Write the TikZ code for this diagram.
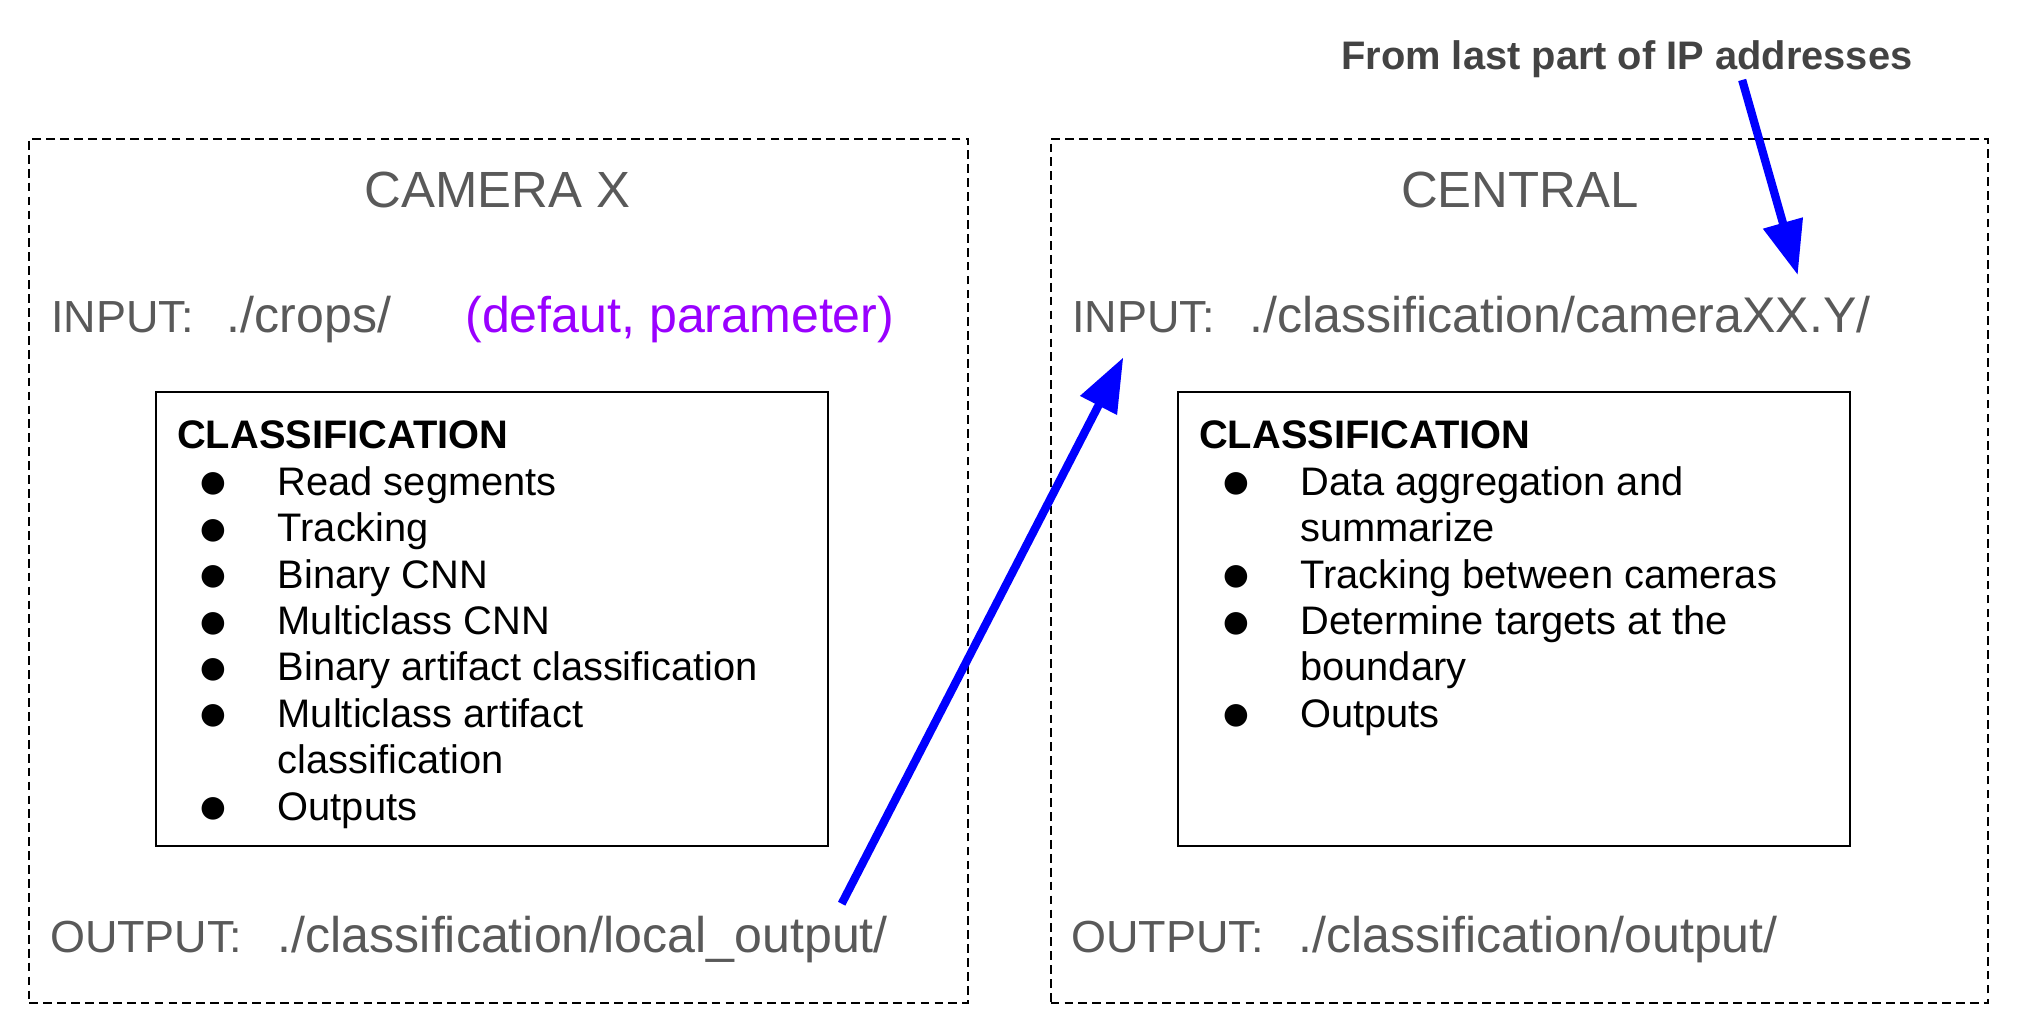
\documentclass[tikz,border=0pt]{standalone}
\usepackage{fontspec}
\setmainfont{Liberation Sans}
\newfontfamily\bulletfont{DejaVu Sans}
\usetikzlibrary{arrows.meta}
\definecolor{txtgray}{HTML}{595959}
\definecolor{anngray}{HTML}{434343}
\definecolor{arrblue}{HTML}{0000FF}
\definecolor{parpurple}{HTML}{9900FF}
\begin{document}
\begin{tikzpicture}[x=0.5bp,y=-0.5bp,
  outerbox/.style={draw=black, line width=0.7bp, dash pattern=on 3.4bp off 2bp, anchor=north west, inner sep=0},
  innerbox/.style={draw=black, line width=0.9bp, anchor=north west, inner sep=0},
  title/.style={text=txtgray, font=\fontsize{19.8}{23}\selectfont, inner sep=0, anchor=base},
  iolabel/.style={text=txtgray, font=\fontsize{17.5}{20}\selectfont, inner sep=0, anchor=base west},
  iopath/.style={text=txtgray, font=\fontsize{19.5}{23}\selectfont, inner sep=0, anchor=base west},
  listhead/.style={font=\bfseries\fontsize{15.5}{18}\selectfont, inner sep=0, anchor=base west},
  listitem/.style={font=\fontsize{15.5}{18}\selectfont, inner sep=0, anchor=base west},
  bul/.style={font=\bulletfont\fontsize{11.5}{12}\selectfont, inner sep=0, anchor=center},
  flow/.style={draw=arrblue, line width=3.2bp, -{Triangle[length=21bp,width=15.25bp]}},
]
\useasboundingbox (0,0) rectangle (1568,800);

% outer dashed boxes
\node[outerbox, minimum width=364bp, minimum height=335bp] (camx) at (22,107) {};
\node[outerbox, minimum width=363.5bp, minimum height=335bp] (central) at (814,107) {};

% inner boxes
\node[innerbox, minimum width=260.5bp, minimum height=176bp] (lbox) at (120,303) {};
\node[innerbox, minimum width=260.5bp, minimum height=176bp] (rbox) at (912.8,303) {};

% titles
\node[title] (ltitle) at (386,160.8) {CAMERA X};
\node[title] (rtitle) at (1178.5,160.8) {CENTRAL};

% left input / output
\node[iolabel] (lin) at (39.2,257.5) {INPUT:};
\node[iopath] (linpath) at (175.6,257.5) {./crops/};
\node[iopath, text=parpurple] (lparam) at (360.5,257.5) {(defaut, parameter)};
\node[iolabel] (lout) at (38.4,739) {OUTPUT:};
\node[iopath] (loutpath) at (215.1,739) {./classification/local\_output/};

% right input / output
\node[iolabel] (rin) at (831.2,257.5) {INPUT:};
\node[iopath] (rinpath) at (968.6,257.5) {./classification/cameraXX.Y/};
\node[iolabel] (rout) at (830.2,739) {OUTPUT:};
\node[iopath] (routpath) at (1006.7,739) {./classification/output/};

% left list
\node[listhead] (lhead) at (137,347.7) {CLASSIFICATION};
\node[bul] (lb1) at (165.8,375.4) {●};
\node[listitem] (li1) at (215,384) {Read segments};
\node[bul] (lb2) at (165.8,411.4) {●};
\node[listitem] (li2) at (215,420) {Tracking};
\node[bul] (lb3) at (165.8,447.4) {●};
\node[listitem] (li3) at (215,456) {Binary CNN};
\node[bul] (lb4) at (165.8,483.4) {●};
\node[listitem] (li4) at (215,492) {Multiclass CNN};
\node[bul] (lb5) at (165.8,519.4) {●};
\node[listitem] (li5) at (215,528) {Binary artifact classification};
\node[bul] (lb6) at (165.8,555.4) {●};
\node[listitem] (li6) at (215,564) {Multiclass artifact};
\node[listitem] (li6b) at (215,600) {classification};
\node[bul] (lb7) at (165.8,627.4) {●};
\node[listitem] (li7) at (215,636) {Outputs};

% right list
\node[listhead] (rhead) at (929.5,347.7) {CLASSIFICATION};
\node[bul] (rb1) at (958.5,375.4) {●};
\node[listitem] (ri1) at (1008,384) {Data aggregation and};
\node[listitem] (ri1b) at (1008,420) {summarize};
\node[bul] (rb2) at (958.5,447.4) {●};
\node[listitem] (ri2) at (1008,456) {Tracking between cameras};
\node[bul] (rb3) at (958.5,483.4) {●};
\node[listitem] (ri3) at (1008,492) {Determine targets at the};
\node[listitem] (ri3b) at (1008,528) {boundary};
\node[bul] (rb4) at (958.5,555.4) {●};
\node[listitem] (ri4) at (1008,564) {Outputs};

% annotation
\node[font=\bfseries\fontsize{15.5}{18}\selectfont, text=anngray, anchor=base west, inner sep=0] (ann) at (1039.8,53.8) {From last part of IP addresses};

% arrows
\coordinate (a1s) at (652.7,700.8);
\coordinate (a1e) at (871.1,277.1);
\draw[flow] (a1s) -- (a1e);
\coordinate (a2s) at (1351,62);
\coordinate (a2e) at (1394.1,213.3);
\draw[flow] (a2s) -- (a2e);
\end{tikzpicture}
\end{document}
